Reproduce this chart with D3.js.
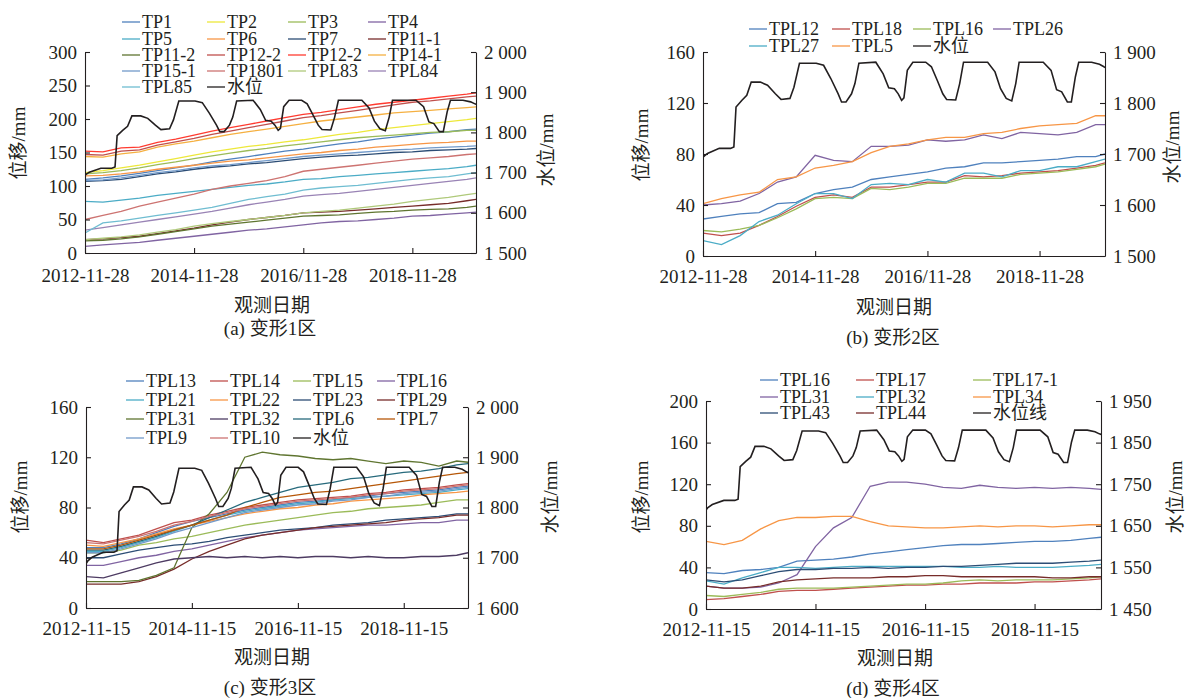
<!DOCTYPE html>
<html><head><meta charset="utf-8">
<script src="https://cdn.jsdelivr.net/npm/d3@7"></script>
<style>
body{margin:0;background:#fff;}
svg{display:block;font-family:"Liberation Serif","Times New Roman","Noto Sans CJK SC",serif;}
svg text{font-size:19px;fill:#231f20;}
svg .leg text{font-size:18px;}
</style></head><body>
<svg id="chart" width="1186" height="698"></svg>
<script>
// sample dates (every 4 months)
const datesAB = ["2012-11-28","2013-03-28","2013-07-28","2013-11-28","2014-03-28","2014-07-28","2014-11-28","2015-03-28","2015-07-28","2015-11-28","2016-03-28","2016-07-28","2016-11-28","2017-03-28","2017-07-28","2017-11-28","2018-03-28","2018-07-28","2018-11-28","2019-03-28","2019-07-28","2019-11-28","2020-01-28"];
const datesCD = ["2012-11-15","2013-03-15","2013-07-15","2013-11-15","2014-03-15","2014-07-15","2014-11-15","2015-03-15","2015-07-15","2015-11-15","2016-03-15","2016-07-15","2016-11-15","2017-03-15","2017-07-15","2017-11-15","2018-03-15","2018-07-15","2018-11-15","2019-03-15","2019-07-15","2019-11-15","2020-02-01"];

// reservoir water level (mm), shared by all panels
const waterDates = ["2012-11-15","2012-11-28","2012-12-27","2013-03-14","2013-05-26","2013-06-17","2013-07-01","2013-08-07","2013-09-09","2013-10-08","2013-12-06","2014-01-22","2014-03-14","2014-04-20","2014-06-17","2014-07-13","2014-08-18","2014-12-05","2015-01-22","2015-03-10","2015-04-27","2015-05-19","2015-06-17","2015-07-23","2015-08-14","2015-09-09","2015-12-28","2016-02-14","2016-03-21","2016-04-27","2016-05-22","2016-06-13","2016-06-28","2016-07-20","2016-08-25","2016-11-17","2016-12-24","2017-01-30","2017-03-08","2017-04-02","2017-05-31","2017-06-26","2017-07-21","2017-12-25","2018-02-11","2018-03-19","2018-04-25","2018-05-31","2018-06-26","2018-07-18","2018-12-22","2019-02-11","2019-03-19","2019-04-21","2019-05-28","2019-06-23","2019-07-19","2019-08-10","2019-11-02","2019-12-23","2020-01-21","2020-02-05"];
const waterLevel = [1688,1694,1701,1711,1711,1714,1792,1805,1815,1841,1841,1835,1818,1807,1809,1831,1878,1878,1874,1848,1818,1802,1802,1818,1838,1878,1880,1857,1830,1828,1818,1805,1810,1864,1880,1880,1871,1845,1818,1807,1806,1838,1880,1880,1861,1828,1809,1804,1838,1880,1880,1864,1826,1822,1802,1802,1851,1880,1880,1876,1871,1869];

// (a) 变形1区
const namesA = ["TP1","TP2","TP3","TP4","TP5","TP6","TP7","TP11-1","TP11-2","TP12-2","TP12-2","TP14-1","TP15-1","TP1801","TPL83","TPL84","TPL85"];
const valuesA = [
  [110,112,115,119,123,127,131,136,140,144,148,152,155,159,163,166,170,173,176,179,181,184,185],
  [120,123,127,131,136,141,146,151,155,159,162,166,169,173,177,180,184,187,190,193,196,199,201],
  [118,120,123,127,132,136,141,145,149,153,156,160,163,166,169,172,174,176,178,180,181,183,183],
  [10,12,14,16,19,22,25,28,31,34,36,39,42,45,47,48,50,52,55,56,58,60,61],
  [77,76,79,82,86,89,92,95,98,101,103,106,110,111,114,116,118,120,122,124,126,129,131],
  [115,116,118,121,125,128,131,134,137,139,142,145,148,150,153,155,158,160,162,164,165,167,167],
  [107,108,110,114,118,121,125,128,130,133,135,138,141,143,145,146,148,150,151,153,154,155,156],
  [20,21,23,25,29,33,37,42,46,50,53,56,60,61,62,64,66,68,70,72,74,78,80],
  [18,19,21,24,28,32,36,40,43,46,49,52,55,56,57,59,61,62,64,65,66,68,70],
  [147,146,152,154,161,166,171,177,182,187,192,197,202,205,209,213,217,221,225,227,230,233,234],
  [152,151,157,158,165,170,176,182,187,192,197,202,207,210,214,218,222,225,228,231,234,237,239],
  [144,143,148,151,158,163,167,172,177,181,185,189,193,197,200,203,206,209,211,213,215,217,218],
  [108,109,112,116,120,123,127,130,132,135,138,141,144,146,148,150,152,154,155,157,158,159,160],
  [50,56,62,70,76,82,88,95,100,104,108,114,122,125,128,131,134,137,140,142,144,147,148],
  [20,22,24,27,31,35,40,44,47,50,53,56,60,62,64,67,70,73,77,80,83,87,89],
  [34,38,42,46,50,54,58,62,67,72,76,80,85,87,89,92,95,98,101,104,107,110,112],
  [30,45,48,52,56,60,64,68,74,80,84,88,94,97,99,101,104,107,110,112,114,118,120]
];

// (b) 变形2区
const namesB = ["TPL12","TPL18","TPL16","TPL26","TPL27","TPL5"];
const valuesB = [
  [29,31,33,34,41,42,49,52,54,60,62,64,66,69,70,73,73,74,75,76,78,78,80],
  [18,16,18,24,31,39,46,48,46,54,54,56,58,58,63,62,63,65,66,67,69,71,73],
  [20,19,21,24,30,37,45,46,45,53,52,54,57,57,61,61,61,64,65,66,68,70,72],
  [40,41,43,49,58,62,79,75,74,86,86,87,91,90,91,95,92,97,96,95,97,103,103],
  [12,9,16,27,32,41,49,49,45,56,57,56,60,58,65,65,62,67,67,70,70,74,76],
  [41,45,48,50,60,62,69,71,74,81,86,88,91,93,93,96,97,100,102,103,104,110,110]
];

// (c) 变形3区
const namesC = ["TPL13","TPL14","TPL15","TPL16","TPL21","TPL22","TPL23","TPL29","TPL31","TPL32","TPL6","TPL7","TPL9","TPL10"];
const valuesC = [
  [48,48,51,55,60,65,69,72,75,78,80,82,84,85,86,88,89,91,92,93,94,96,97],
  [54,52,55,58,63,68,70,74,77,80,82,84,86,87,88,89,91,92,94,95,96,98,99],
  [44,44,46,50,52,55,57,60,63,66,68,70,72,74,76,77,79,80,81,82,84,86,86],
  [34,34,37,40,42,45,47,50,53,56,58,60,62,63,64,65,66,66,67,68,68,70,70],
  [45,45,48,52,56,61,66,70,74,77,79,81,83,84,86,87,88,89,90,91,92,94,95],
  [50,49,52,55,59,63,66,69,72,75,77,79,80,82,83,85,86,87,88,90,91,92,93],
  [40,40,43,46,48,50,51,53,56,58,60,62,63,64,66,67,68,70,71,72,73,75,75],
  [19,19,19,21,25,31,39,45,50,55,58,60,62,64,65,66,67,68,70,71,72,74,74],
  [21,21,21,22,26,32,64,75,92,120,124,122,121,119,118,119,117,115,117,116,113,117,116],
  [25,24,28,32,36,39,40,41,40,41,40,41,40,41,41,40,41,40,40,41,41,42,44],
  [46,46,49,53,57,62,66,72,78,84,88,92,96,98,100,103,104,106,108,109,111,114,115],
  [47,47,50,54,58,62,66,70,74,80,84,88,90,92,93,95,97,99,101,103,105,107,108],
  [44,44,47,51,55,60,64,68,72,76,78,80,82,83,85,86,88,89,91,92,93,95,96],
  [52,51,54,57,61,66,69,73,76,79,81,83,85,86,87,88,90,91,93,94,95,97,98]
];

// (d) 变形4区
const namesD = ["TPL16","TPL17","TPL17-1","TPL31","TPL32","TPL34","TPL43","TPL44"];
const valuesD = [
  [35,34,37,38,40,46,47,48,50,53,55,57,59,61,62,62,63,64,65,65,66,68,69],
  [9,10,12,14,17,18,18,19,20,21,22,23,23,24,24,25,25,25,26,26,27,28,29],
  [13,12,14,16,19,20,20,20,21,22,23,24,24,25,27,28,27,28,28,28,29,30,31],
  [22,20,20,21,25,33,60,78,88,118,122,122,120,117,116,119,117,116,117,116,117,116,115],
  [27,24,30,35,40,40,39,40,41,41,41,41,41,41,40,40,41,40,40,40,41,42,43],
  [65,62,66,77,85,88,88,89,89,84,80,79,78,78,79,80,79,80,80,79,80,81,81],
  [28,26,28,32,36,38,38,39,39,40,39,40,40,41,41,42,43,44,44,44,45,46,47],
  [22,20,20,22,26,28,29,30,30,30,31,31,32,32,31,31,31,31,31,30,30,31,31]
];

// axis ticks
const xTicksAB = ["2012-11-28","2014-11-28","2016-11-28","2018-11-28"];
const xLabelsAB = ["2012-11-28","2014-11-28","2016/11-28","2018-11-28"];
const xTicksCD = ["2012-11-15","2014-11-15","2016-11-15","2018-11-15"];
const xLabelsCD = ["2012-11-15","2014-11-15","2016-11-15","2018-11-15"];
const yTicksA = [0,50,100,150,200,250,300];
const rTicksA = [1500,1600,1700,1800,1900,2000];
const yTicksB = [0,40,80,120,160];
const rTicksB = [1500,1600,1700,1800,1900];
const yTicksC = [0,40,80,120,160];
const rTicksC = [1600,1700,1800,1900,2000];
const yTicksD = [0,40,80,120,160,200];
const rTicksD = [1450,1550,1650,1750,1850,1950];

// colours
const office = ["#4F81BD","#C0504D","#9BBB59","#8064A2","#4BACC6","#F79646","#2C4D75","#772C2A","#5F7530","#4D3B62","#276A7C","#B65708","#729ACA","#CD7371"];
const colorsA = ["#4F81BD","#EDE83A","#9BBB59","#8064A2","#4BACC6","#F79646","#2C4D75","#772C2A","#5F7530","#C0504D","#FF3B30","#F5B041","#729ACA","#CD7371","#AFC97A","#9983B5","#6FBDD1"];
const waterColor = "#231f20";

const parse = d3.timeParse("%Y-%m-%d");
const svg = d3.select('#chart');
const thou = v => String(v).replace(/(\d)(\d{3})$/, "$1 $2");

function drawPanel(p){
  const g = svg.append('g');
  const x = d3.scaleTime().domain([parse(p.dates[0]), parse(p.dates[p.dates.length-1])]).range([p.left,p.right]);
  const yL = d3.scaleLinear().domain([p.yTicks[0], p.yTicks[p.yTicks.length-1]]).range([p.bottom,p.top]);
  const yR = d3.scaleLinear().domain([p.rTicks[0], p.rTicks[p.rTicks.length-1]]).range([p.bottom,p.top]);

  svg.append('clipPath').attr('id','clip'+p.id)
    .append('rect').attr('x',p.left).attr('y',p.top-20)
    .attr('width',p.right-p.left).attr('height',p.bottom-p.top+20);
  const plot = g.append('g').attr('clip-path',`url(#clip${p.id})`);

  const line = d3.line().x((d,i)=>x(parse(p.dates[i]))).y(d=>yL(d));
  p.values.forEach((vals,i)=>{
    plot.append('path').datum(vals).attr('d',line)
      .attr('fill','none').attr('stroke',p.colors[i]).attr('stroke-width',1.3);
  });
  const wline = d3.line().x((d,i)=>x(parse(waterDates[i]))).y(d=>yR(d));
  plot.append('path').datum(waterLevel).attr('d',wline)
    .attr('fill','none').attr('stroke',waterColor).attr('stroke-width',1.6);

  const style = s => {
    s.attr('font-family',null).attr('font-size',null);
    s.selectAll('path,line').attr('stroke',waterColor).attr('stroke-width',1.1);
  };
  g.append('g').attr('transform',`translate(${p.left},0)`)
    .call(d3.axisLeft(yL).tickValues(p.yTicks).tickSizeInner(-5).tickSizeOuter(0).tickPadding(8)).call(style);
  g.append('g').attr('transform',`translate(${p.right},0)`)
    .call(d3.axisRight(yR).tickValues(p.rTicks).tickFormat(thou).tickSizeInner(-5).tickSizeOuter(0).tickPadding(8)).call(style);
  g.append('g').attr('transform',`translate(0,${p.bottom})`)
    .call(d3.axisBottom(x).tickValues(p.xTicks.map(parse)).tickFormat((d,i)=>p.xLabels[i])
      .tickSizeInner(-5).tickSizeOuter(0).tickPadding(p.xPad)).call(style);

  // titles
  g.append('text').attr('transform',`translate(${p.lTitle[0]},${p.lTitle[1]}) rotate(-90)`)
    .attr('text-anchor','middle').attr('dominant-baseline','central').text('位移/mm');
  g.append('text').attr('transform',`translate(${p.rTitle[0]},${p.rTitle[1]}) rotate(-90)`)
    .attr('text-anchor','middle').attr('dominant-baseline','central').text('水位/mm');
  g.append('text').attr('x',p.xTitle[0]).attr('y',p.xTitle[1])
    .attr('text-anchor','middle').attr('dominant-baseline','central').text('观测日期');
  g.append('text').attr('x',p.caption[0]).attr('y',p.caption[1])
    .attr('text-anchor','middle').attr('dominant-baseline','central').text(p.captionText);

  // legend
  const items = p.names.map((n,i)=>({name:n,color:p.colors[i]})).concat([{name:p.waterName,color:waterColor}]);
  const cols = p.legCols.length;
  const leg = g.append('g').attr('class','leg');
  items.forEach((it,i)=>{
    const lx = p.legCols[i%cols], ly = p.legRows[Math.floor(i/cols)];
    leg.append('line').attr('x1',lx-20).attr('x2',lx-2).attr('y1',ly).attr('y2',ly)
      .attr('stroke',it.color).attr('stroke-width',1.3);
    leg.append('text').attr('x',lx).attr('y',ly).attr('dominant-baseline','central').text(it.name);
  });
}

drawPanel({id:'a', dates:datesAB, values:valuesA, names:namesA, colors:colorsA,
  left:85, right:476, top:52, bottom:253, yTicks:yTicksA, rTicks:rTicksA,
  xTicks:xTicksAB, xLabels:xLabelsAB, xPad:16,
  lTitle:[18,143], rTitle:[546,150], xTitle:[272,305], caption:[270,328], captionText:'(a) 变形1区',
  waterName:'水位', legCols:[142,227,308,388], legRows:[22,39,55,71,87]});

drawPanel({id:'b', dates:datesAB, values:valuesB, names:namesB, colors:office,
  left:703, right:1105, top:52, bottom:256, yTicks:yTicksB, rTicks:rTicksB,
  xTicks:xTicksAB, xLabels:xLabelsAB, xPad:14,
  lTitle:[641,145], rTitle:[1172,147], xTitle:[894,307], caption:[893,337], captionText:'(b) 变形2区',
  waterName:'水位', legCols:[769,852,933,1013], legRows:[29,46]});

drawPanel({id:'c', dates:datesCD, values:valuesC, names:namesC, colors:office,
  left:86, right:468, top:407, bottom:608, yTicks:yTicksC, rTicks:rTicksC,
  xTicks:xTicksCD, xLabels:xLabelsCD, xPad:14,
  lTitle:[20,497], rTitle:[550,497], xTitle:[272,657], caption:[270,687], captionText:'(c) 变形3区',
  waterName:'水位', legCols:[146,230,313,397], legRows:[381,400,419,438]});

drawPanel({id:'d', dates:datesCD, values:valuesD, names:namesD, colors:office,
  left:706, right:1101, top:401, bottom:609, yTicks:yTicksD, rTicks:rTicksD,
  xTicks:xTicksCD, xLabels:xLabelsCD, xPad:14,
  lTitle:[641,497], rTitle:[1175,497], xTitle:[895,658], caption:[893,688], captionText:'(d) 变形4区',
  waterName:'水位线', legCols:[780,876,993], legRows:[380,397,413]});
</script>
</body></html>
